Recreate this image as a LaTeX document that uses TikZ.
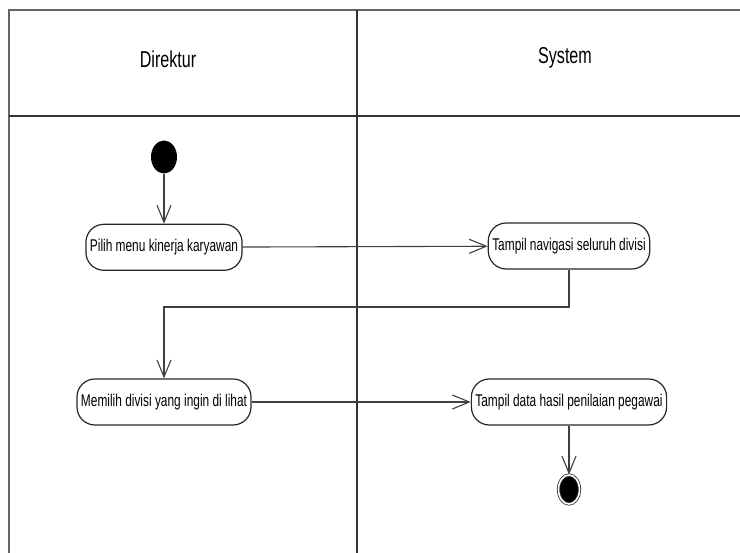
\documentclass[tikz,border=0pt]{standalone}
\usepackage{fontspec}
\setmainfont{Liberation Sans}
\newfontfamily\narrowsans{Liberation Sans}[FakeStretch=0.70]
\usetikzlibrary{arrows.meta,positioning}
\usetikzlibrary{shapes}

\begin{document}
\begin{tikzpicture}[
	    x=1pt, y=1pt,
	    lanetext/.style={anchor=base, font=\narrowsans\fontsize{23}{27}\selectfont},
	    activity/.style={rectangle, rounded corners=18pt, draw=black!85, line width=1.2pt, minimum height=46pt, inner xsep=4pt, font=\narrowsans\fontsize{17}{20}\selectfont},
	    startstate/.style={ellipse, fill=black, minimum width=26pt, minimum height=33pt, inner sep=0pt},
	    endstate/.style={ellipse, fill=black, draw=black!80, double=white, double distance=1.6pt, line width=0.8pt, minimum width=21pt, minimum height=29pt, inner sep=0pt},
	    normalline/.style={-{Straight Barb[length=17pt, width=14pt]}, line width=1.1pt, black!75},
	    laneline/.style={line width=1.6pt, black!60},
	]
	\useasboundingbox (0,0) rectangle (740,553);

	% Swimlanes
	\draw [laneline] (9,0) -- (9,543) -- (740,543);
	\draw [laneline, black!80] (9,437) -- (740,437);
	\draw [laneline, black!80] (357,0) -- (357,543);
	\node[lanetext] (direktur) at (168,485) {Direktur};
	\node[lanetext] (system) at (565,489) {System};

	% Direktur
	\node[startstate] (start) at (164,396) {};
	\node[activity, below=50pt of start] (menu) {Pilih menu kinerja karyawan};
	\node[activity] (divisi) at (164,151) {Memilih divisi yang ingin di lihat};

	% System
	\node[activity] (navigasi) at (569,307) {Tampil navigasi seluruh divisi};
	\node[activity] (hasil) at (569,151) {Tampil data hasil penilaian pegawai};
	\node[endstate, below=49pt of hasil] (end) {};

	\coordinate (turn) at (357,246);

	% connection lines
	\draw [normalline] (start) -- (menu);
	\draw [normalline] (menu) -- (navigasi);
	\draw [normalline] (navigasi.south) |- (turn) -| (divisi.north);
	\draw [normalline] (divisi) -- (hasil);
	\draw [normalline] (hasil) -- (end);

\end{tikzpicture}
\end{document}
